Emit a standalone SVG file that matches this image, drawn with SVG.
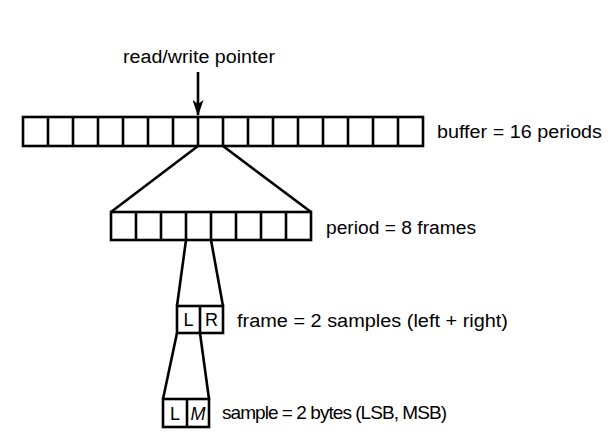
<svg xmlns="http://www.w3.org/2000/svg" width="614" height="438" viewBox="0 0 614 438">
<style>
.box{fill:#fff;stroke:#000;stroke-width:2.6}
.div{stroke:#000;stroke-width:2.6}
.conn{stroke:#000;stroke-width:2.6;fill:none}
.lbl{font-family:"Liberation Sans",Arial,sans-serif;font-size:18px;fill:#000}
.cell{font-family:"Liberation Sans",Arial,sans-serif;font-size:18px;fill:#000;text-anchor:middle}
</style>
<defs>
<marker id="ah" markerWidth="16" markerHeight="11" refX="15" refY="5.5" orient="auto" markerUnits="userSpaceOnUse" viewBox="0 0 16 11">
<path d="M0,0 L16,5.5 L0,11 L4,5.5 Z" fill="#000"/>
</marker>
</defs>
<rect width="614" height="438" fill="#fff"/>
<g id="connectors">
<line class="conn" x1="198" y1="72" x2="198" y2="115" marker-end="url(#ah)"/>
<polyline class="conn" points="198,146 111,212"/>
<polyline class="conn" points="223,146 311,212"/>
<polyline class="conn" points="186,240 177,306"/>
<polyline class="conn" points="211,240 223,306"/>
<polyline class="conn" points="177,333 163,399"/>
<polyline class="conn" points="200,333 209,399"/>
</g>
<g id="pointer">
<text class="lbl" x="199" y="63" text-anchor="middle" textLength="152" lengthAdjust="spacingAndGlyphs">read/write pointer</text>
</g>
<g id="buffer">
<rect class="box" x="23" y="117" width="400" height="29"/>
<path class="div" d="M48,117V146M73,117V146M98,117V146M123,117V146M148,117V146M173,117V146M198,117V146M223,117V146M248,117V146M273,117V146M298,117V146M323,117V146M348,117V146M373,117V146M398,117V146"/>
<text class="lbl" x="437" y="138" textLength="165" lengthAdjust="spacingAndGlyphs">buffer = 16 periods</text>
</g>
<g id="period">
<rect class="box" x="111" y="212" width="200" height="28"/>
<path class="div" d="M136,212V240M161,212V240M186,212V240M211,212V240M236,212V240M261,212V240M286,212V240"/>
<text class="lbl" x="326" y="234" textLength="150" lengthAdjust="spacingAndGlyphs">period = 8 frames</text>
</g>
<g id="frame">
<rect class="box" x="177" y="306" width="46" height="27"/>
<line class="div" x1="200" y1="306" x2="200" y2="333"/>
<text class="cell" x="188.5" y="326">L</text>
<text class="cell" x="211.5" y="326">R</text>
<text class="lbl" x="237" y="327" textLength="271" lengthAdjust="spacingAndGlyphs">frame = 2 samples (left + right)</text>
</g>
<g id="sample">
<rect class="box" x="163" y="399" width="46" height="28"/>
<line class="div" x1="187" y1="399" x2="187" y2="427"/>
<text class="cell" x="175" y="420">L</text>
<text class="cell" x="198" y="420" font-style="italic">M</text>
<text class="lbl" x="222" y="419" style="font-size:19px" textLength="225" lengthAdjust="spacing">sample = 2 bytes (LSB, MSB)</text>
</g>
</svg>
